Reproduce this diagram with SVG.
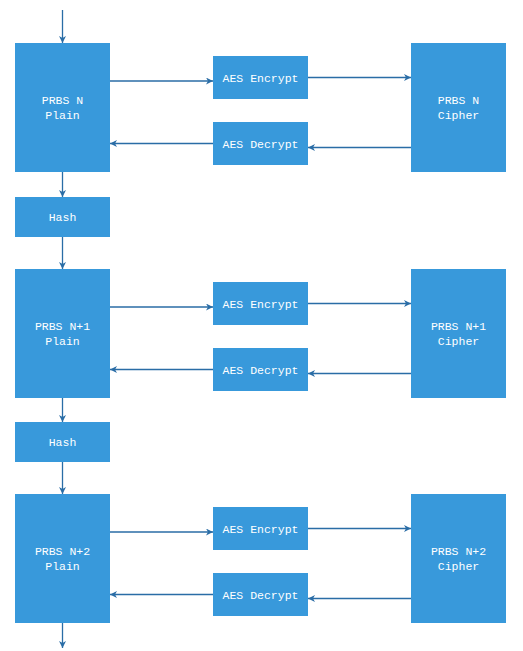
<svg xmlns="http://www.w3.org/2000/svg" width="523" height="651" viewBox="0 0 523 651">
<defs>
<marker id="ah" markerUnits="userSpaceOnUse" markerWidth="8" markerHeight="8" refX="7" refY="3.5" orient="auto">
<path d="M0,0 L7,3.5 L0,7 L2,3.5 z" fill="#2a6da6"/>
</marker>
</defs>
<style>
.box{fill:#3899db;}
.t{fill:#ffffff;font-family:"Liberation Mono",monospace;font-size:11.5px;text-anchor:middle;}
.c{stroke:#2a6da6;stroke-width:1.3;fill:none;marker-end:url(#ah);}
</style>
<rect width="523" height="651" fill="#ffffff"/>
<g id="connectors">
<line class="c" x1="62.5" y1="10" x2="62.5" y2="43"/>
<line class="c" x1="110" y1="81" x2="213" y2="81"/>
<line class="c" x1="308" y1="77.5" x2="411" y2="77.5"/>
<line class="c" x1="411" y1="147.5" x2="308" y2="147.5"/>
<line class="c" x1="213" y1="143.5" x2="110" y2="143.5"/>
<line class="c" x1="62.5" y1="172" x2="62.5" y2="197"/>
<line class="c" x1="62.5" y1="237" x2="62.5" y2="269"/>
<line class="c" x1="110" y1="307" x2="213" y2="307"/>
<line class="c" x1="308" y1="303.5" x2="411" y2="303.5"/>
<line class="c" x1="411" y1="373.5" x2="308" y2="373.5"/>
<line class="c" x1="213" y1="369.5" x2="110" y2="369.5"/>
<line class="c" x1="62.5" y1="398" x2="62.5" y2="422"/>
<line class="c" x1="62.5" y1="462" x2="62.5" y2="494"/>
<line class="c" x1="110" y1="532" x2="213" y2="532"/>
<line class="c" x1="308" y1="528.5" x2="411" y2="528.5"/>
<line class="c" x1="411" y1="598.5" x2="308" y2="598.5"/>
<line class="c" x1="213" y1="594.5" x2="110" y2="594.5"/>
<line class="c" x1="62.5" y1="623" x2="62.5" y2="648"/>
</g>
<g id="plain1"><rect class="box" x="15" y="43" width="95" height="129"/><text class="t" x="62.5" y="104">PRBS N</text><text class="t" x="62.5" y="119">Plain</text></g>
<g id="enc1"><rect class="box" x="213" y="56" width="95" height="43"/><text class="t" x="260.5" y="81.5">AES Encrypt</text></g>
<g id="dec1"><rect class="box" x="213" y="122" width="95" height="43"/><text class="t" x="260.5" y="147.5">AES Decrypt</text></g>
<g id="cipher1"><rect class="box" x="411" y="43" width="95" height="129"/><text class="t" x="458.5" y="104">PRBS N</text><text class="t" x="458.5" y="119">Cipher</text></g>
<g id="hash1"><rect class="box" x="15" y="197" width="95" height="40"/><text class="t" x="62.5" y="221">Hash</text></g>

<g id="plain2"><rect class="box" x="15" y="269" width="95" height="129"/><text class="t" x="62.5" y="330">PRBS N+1</text><text class="t" x="62.5" y="345">Plain</text></g>
<g id="enc2"><rect class="box" x="213" y="282" width="95" height="43"/><text class="t" x="260.5" y="307.5">AES Encrypt</text></g>
<g id="dec2"><rect class="box" x="213" y="348" width="95" height="43"/><text class="t" x="260.5" y="373.5">AES Decrypt</text></g>
<g id="cipher2"><rect class="box" x="411" y="269" width="95" height="129"/><text class="t" x="458.5" y="330">PRBS N+1</text><text class="t" x="458.5" y="345">Cipher</text></g>
<g id="hash2"><rect class="box" x="15" y="422" width="95" height="40"/><text class="t" x="62.5" y="446">Hash</text></g>

<g id="plain3"><rect class="box" x="15" y="494" width="95" height="129"/><text class="t" x="62.5" y="555">PRBS N+2</text><text class="t" x="62.5" y="570">Plain</text></g>
<g id="enc3"><rect class="box" x="213" y="507" width="95" height="43"/><text class="t" x="260.5" y="532.5">AES Encrypt</text></g>
<g id="dec3"><rect class="box" x="213" y="573" width="95" height="43"/><text class="t" x="260.5" y="598.5">AES Decrypt</text></g>
<g id="cipher3"><rect class="box" x="411" y="494" width="95" height="129"/><text class="t" x="458.5" y="555">PRBS N+2</text><text class="t" x="458.5" y="570">Cipher</text></g>
</svg>
